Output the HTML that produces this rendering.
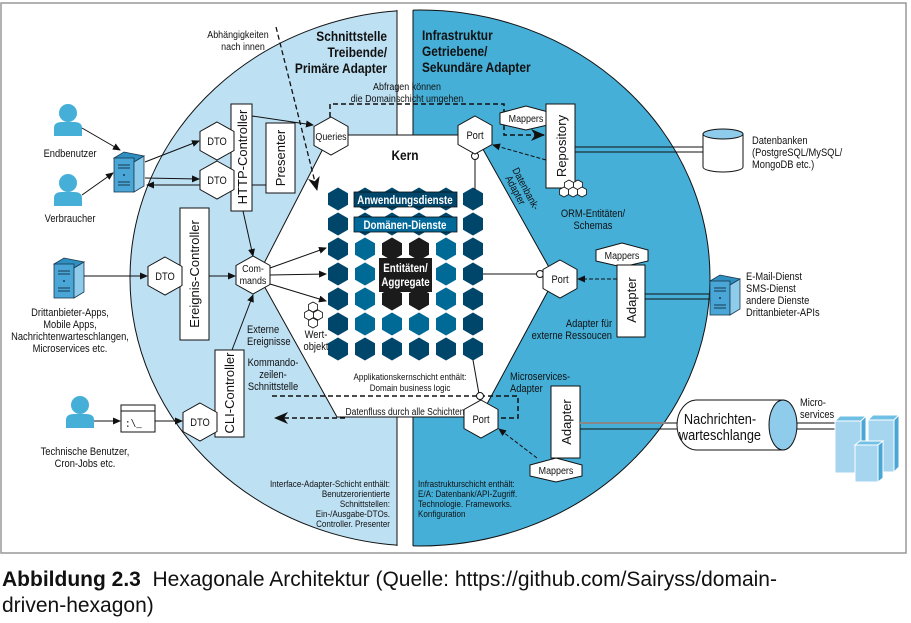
<!DOCTYPE html>
<html><head><meta charset="utf-8"><style>
html,body{margin:0;padding:0;background:#fff;width:911px;height:623px;overflow:hidden}
svg text{font-family:"Liberation Sans Narrow","Liberation Sans",sans-serif;fill:#111}
svg text:not([transform]){transform-box:fill-box;transform-origin:left center;transform:scaleX(.85)}
svg text[text-anchor=middle]:not([transform]){transform-origin:center center}
svg text[text-anchor=end]:not([transform]){transform-origin:right center}
.cap{position:absolute;left:2px;font-family:"Liberation Sans Narrow","Liberation Sans",sans-serif;font-size:21px;color:#111;white-space:nowrap}
</style></head><body>
<svg width="911" height="623" viewBox="0 0 911 623" xmlns="http://www.w3.org/2000/svg" style="position:absolute;left:0;top:0">
<defs>
<polygon id="hx" points="0,-11.5 10,-5.75 10,5.75 0,11.5 -10,5.75 -10,-5.75"/>
<polygon id="nh" points="0,-19 17,-9.5 17,9.5 0,19 -17,9.5 -17,-9.5" fill="#fff" stroke="#111" stroke-width="1"/>
<polygon id="mp" points="-26,-5 0,-12 26,-5 26,6 0,12 -26,6" fill="#fff" stroke="#111" stroke-width="1"/>
<polygon id="sh" points="0,-5 4.5,-2.5 4.5,2.5 0,5 -4.5,2.5 -4.5,-2.5" fill="#fff" stroke="#111" stroke-width="0.8"/>
<marker id="ar" markerWidth="8" markerHeight="8" refX="7" refY="4" orient="auto" markerUnits="userSpaceOnUse"><path d="M0,0.5 L8,4 L0,7.5 Z" fill="#111"/></marker>
<marker id="ab" markerWidth="14" markerHeight="12" refX="13" refY="6" orient="auto" markerUnits="userSpaceOnUse"><path d="M0,0 L14,6 L0,12 L4,6 Z" fill="#111"/></marker>
<clipPath id="cl"><rect x="0" y="0" width="397" height="623"/></clipPath>
<clipPath id="cr"><rect x="413" y="0" width="500" height="623"/></clipPath>
<g id="srv"><polygon points="0,6 10,0 30,4 20,10" fill="#2f8fc0" stroke="#1a3a50" stroke-width="0.8"/><rect x="0" y="6" width="20" height="34" fill="#4aa6d6" stroke="#1a3a50" stroke-width="0.8"/><polygon points="20,10 30,4 30,34 20,40" fill="#8fcbea" stroke="#1a3a50" stroke-width="0.8"/><path d="M4,13h12M4,16h12M4,30h12M4,33h12" stroke="#1a3a50" stroke-width="1"/><circle cx="10" cy="23" r="1" fill="#1a3a50"/></g>
</defs>
<path d="M1,3 H906 V553 H1 Z" fill="none" stroke="#999" stroke-width="1.5"/>
<ellipse cx="420" cy="278" rx="290" ry="268" fill="#bde0f3" stroke="#111" stroke-width="1" clip-path="url(#cl)"/>
<ellipse cx="420" cy="278" rx="290" ry="268" fill="#45afd8" stroke="#111" stroke-width="1" clip-path="url(#cr)"/>
<line x1="397" y1="10" x2="397" y2="546" stroke="#111"/>
<line x1="413" y1="10" x2="413" y2="546" stroke="#111"/>
<polygon points="330,135 475,135 555,278 480,417 337,417 258,275" fill="#fff" stroke="#111" stroke-width="1"/>
<text x="405" y="160" font-size="14" font-weight="bold" text-anchor="middle">Kern</text>
<g>
<use href="#hx" x="338" y="199" fill="#00456a"/><use href="#hx" x="365" y="199" fill="#00456a"/><use href="#hx" x="392" y="199" fill="#00456a"/><use href="#hx" x="419" y="199" fill="#00456a"/><use href="#hx" x="446" y="199" fill="#00456a"/><use href="#hx" x="473" y="199" fill="#00456a"/>
<use href="#hx" x="338" y="224" fill="#00456a"/><use href="#hx" x="365" y="224" fill="#00456a"/><use href="#hx" x="392" y="224" fill="#00456a"/><use href="#hx" x="419" y="224" fill="#00456a"/><use href="#hx" x="446" y="224" fill="#00456a"/><use href="#hx" x="473" y="224" fill="#00456a"/>
<use href="#hx" x="338" y="249" fill="#00456a"/><use href="#hx" x="365" y="249" fill="#006a96"/><use href="#hx" x="392" y="249" fill="#1b1b1b"/><use href="#hx" x="419" y="249" fill="#1b1b1b"/><use href="#hx" x="446" y="249" fill="#006a96"/><use href="#hx" x="473" y="249" fill="#00456a"/>
<use href="#hx" x="338" y="274" fill="#00456a"/><use href="#hx" x="365" y="274" fill="#006a96"/><use href="#hx" x="446" y="274" fill="#006a96"/><use href="#hx" x="473" y="274" fill="#00456a"/>
<use href="#hx" x="338" y="299" fill="#00456a"/><use href="#hx" x="365" y="299" fill="#006a96"/><use href="#hx" x="392" y="299" fill="#1b1b1b"/><use href="#hx" x="419" y="299" fill="#1b1b1b"/><use href="#hx" x="446" y="299" fill="#006a96"/><use href="#hx" x="473" y="299" fill="#00456a"/>
<use href="#hx" x="338" y="324" fill="#00456a"/><use href="#hx" x="365" y="324" fill="#006a96"/><use href="#hx" x="392" y="324" fill="#006a96"/><use href="#hx" x="419" y="324" fill="#006a96"/><use href="#hx" x="446" y="324" fill="#006a96"/><use href="#hx" x="473" y="324" fill="#00456a"/>
<use href="#hx" x="338" y="349" fill="#00456a"/><use href="#hx" x="365" y="349" fill="#00456a"/><use href="#hx" x="392" y="349" fill="#00456a"/><use href="#hx" x="419" y="349" fill="#00456a"/><use href="#hx" x="446" y="349" fill="#00456a"/><use href="#hx" x="473" y="349" fill="#00456a"/>
</g>
<rect x="354" y="192" width="103" height="15" fill="#00456a" stroke="#111" stroke-width="0.8"/>
<text x="405" y="204" font-size="11.5" font-weight="bold" text-anchor="middle" style="fill:#fff">Anwendungsdienste</text>
<rect x="354" y="217" width="103" height="15" fill="#00699a" stroke="#111" stroke-width="0.8"/>
<text x="405" y="229" font-size="11.5" font-weight="bold" text-anchor="middle" style="fill:#fff">Domänen-Dienste</text>
<rect x="379" y="258" width="53" height="34" fill="#1b1b1b"/>
<text x="405.5" y="272" font-size="11.5" font-weight="bold" text-anchor="middle" style="fill:#fff">Entitäten/</text>
<text x="405.5" y="286" font-size="11.5" font-weight="bold" text-anchor="middle" style="fill:#fff">Aggregate</text>
<use href="#sh" x="313" y="307"/><use href="#sh" x="318" y="315"/><use href="#sh" x="313" y="323"/><use href="#sh" x="309" y="315"/>
<text x="316" y="338" font-size="11" text-anchor="middle">Wert-</text>
<text x="316" y="350" font-size="11" text-anchor="middle">objekt</text>
<g fill="#45afd8">
<circle cx="68" cy="113" r="9"/><path d="M54,136 V128 Q54,122 62,122 H74 Q82,122 82,128 V136 Z"/>
<circle cx="68" cy="183" r="9"/><path d="M54,206 V198 Q54,192 62,192 H74 Q82,192 82,198 V206 Z"/>
<circle cx="80" cy="405" r="9"/><path d="M66,428 V420 Q66,414 74,414 H86 Q94,414 94,420 V428 Z"/>
</g>
<text x="70" y="157" font-size="11" text-anchor="middle">Endbenutzer</text>
<text x="70" y="222" font-size="11" text-anchor="middle">Verbraucher</text>
<text x="85" y="455" font-size="11" text-anchor="middle">Technische Benutzer,</text>
<text x="85" y="467" font-size="11" text-anchor="middle">Cron-Jobs etc.</text>
<use href="#srv" x="114" y="152"/>
<use href="#srv" x="54" y="258"/>
<text x="70" y="316" font-size="11" text-anchor="middle">Drittanbieter-Apps,</text>
<text x="70" y="328" font-size="11" text-anchor="middle">Mobile Apps,</text>
<text x="70" y="340" font-size="11" text-anchor="middle">Nachrichtenwarteschlangen,</text>
<text x="70" y="352" font-size="11" text-anchor="middle">Microservices etc.</text>
<rect x="121" y="405" width="34" height="27" fill="#fff" stroke="#111"/><line x1="121" y1="411" x2="155" y2="411" stroke="#111"/>
<text x="125" y="427" font-size="11" style="font-family:'Liberation Mono',monospace">:\_</text>
<g stroke="#111" stroke-width="1" fill="none" marker-end="url(#ar)">
<line x1="82" y1="128" x2="120" y2="150"/>
<line x1="82" y1="195" x2="113" y2="173"/>
<line x1="145" y1="162" x2="199" y2="141"/>
<line x1="145" y1="178" x2="199" y2="179"/>
<line x1="266" y1="185" x2="147" y2="185"/>
<line x1="84" y1="276" x2="147" y2="276"/>
<line x1="209" y1="276" x2="235" y2="276"/>
<line x1="94" y1="421" x2="120" y2="421"/>
<line x1="155" y1="421" x2="182" y2="421"/>
<line x1="252" y1="116" x2="313" y2="125"/>
<line x1="243" y1="211" x2="253" y2="256"/>
<line x1="232" y1="350" x2="253" y2="295"/>
<line x1="270" y1="268" x2="326" y2="248"/>
<line x1="270" y1="275" x2="326" y2="274"/>
<line x1="270" y1="284" x2="326" y2="301"/>
</g>
<rect x="231" y="104" width="21" height="107" fill="#fff" stroke="#111"/>
<text transform="translate(247,157) rotate(-90)" font-size="13" text-anchor="middle">HTTP-Controller</text>
<rect x="266" y="123" width="29" height="70" fill="#fff" stroke="#111"/>
<text transform="translate(285,158) rotate(-90)" font-size="13" text-anchor="middle">Presenter</text>
<rect x="180" y="208" width="29" height="132" fill="#fff" stroke="#111"/>
<text transform="translate(199,274) rotate(-90)" font-size="13" text-anchor="middle">Ereignis-Controller</text>
<rect x="215" y="350" width="29" height="87" fill="#fff" stroke="#111"/>
<text transform="translate(234,393) rotate(-90)" font-size="13" text-anchor="middle">CLI-Controller</text>
<use href="#nh" x="217" y="141"/><text x="217" y="145" font-size="11" text-anchor="middle">DTO</text>
<use href="#nh" x="217" y="180"/><text x="217" y="184" font-size="11" text-anchor="middle">DTO</text>
<use href="#nh" x="165" y="276"/><text x="165" y="280" font-size="11" text-anchor="middle">DTO</text>
<use href="#nh" x="200" y="422"/><text x="200" y="426" font-size="11" text-anchor="middle">DTO</text>
<use href="#nh" x="253" y="275"/><text x="253" y="272" font-size="10.5" text-anchor="middle">Com-</text><text x="253" y="284" font-size="10.5" text-anchor="middle">mands</text>
<use href="#nh" x="331" y="136"/><text x="331" y="140" font-size="10.5" text-anchor="middle">Queries</text>
<text x="247" y="333" font-size="11">Externe</text>
<text x="247" y="345" font-size="11">Ereignisse</text>
<text x="273" y="366" font-size="11" text-anchor="middle">Kommando-</text>
<text x="273" y="378" font-size="11" text-anchor="middle">zeilen-</text>
<text x="273" y="390" font-size="11" text-anchor="middle">Schnittstelle</text>
<text x="238" y="38" font-size="10.5" text-anchor="middle">Abhängigkeiten</text>
<text x="243" y="50" font-size="10.5" text-anchor="middle">nach innen</text>
<line x1="276" y1="27" x2="317" y2="190" stroke="#111" stroke-width="1.3" stroke-dasharray="5,3" marker-end="url(#ab)"/>
<text x="387" y="41" font-size="14" font-weight="bold" text-anchor="end">Schnittstelle</text>
<text x="387" y="57" font-size="14" font-weight="bold" text-anchor="end">Treibende/</text>
<text x="387" y="73" font-size="14" font-weight="bold" text-anchor="end">Primäre Adapter</text>
<text x="422" y="40" font-size="14" font-weight="bold">Infrastruktur</text>
<text x="422" y="56" font-size="14" font-weight="bold">Getriebene/</text>
<text x="422" y="72" font-size="14" font-weight="bold">Sekundäre Adapter</text>
<text x="407" y="90" font-size="10.5" text-anchor="middle">Abfragen können</text>
<text x="407" y="102" font-size="10.5" text-anchor="middle">die Domainschicht umgehen</text>
<path d="M330,117 V104 H504 V135 H544" fill="none" stroke="#111" stroke-width="1.5" stroke-dasharray="5,3" marker-end="url(#ab)"/>
<use href="#mp" x="526" y="118"/><text x="526" y="122" font-size="10.5" text-anchor="middle">Mappers</text>
<rect x="546" y="104" width="29" height="84" fill="#fff" stroke="#111"/>
<text transform="translate(566,146) rotate(-90)" font-size="13" text-anchor="middle">Repository</text>
<use href="#sh" x="569" y="185"/><use href="#sh" x="578" y="185"/><use href="#sh" x="573" y="192"/><use href="#sh" x="564" y="192"/><use href="#sh" x="582" y="192"/>
<text x="593" y="217" font-size="11" text-anchor="middle">ORM-Entitäten/</text>
<text x="593" y="229" font-size="11" text-anchor="middle">Schemas</text>
<text transform="translate(512,170) rotate(62) scale(.85,1)" font-size="10.5">Datenbank-</text>
<text transform="translate(505,178) rotate(62) scale(.85,1)" font-size="10.5">Adapter</text>
<line x1="475" y1="153" x2="475" y2="190" stroke="#111"/>
<circle cx="475" cy="156" r="3.5" fill="#fff" stroke="#111"/>
<use href="#nh" x="475" y="135"/><text x="475" y="139" font-size="11" text-anchor="middle">Port</text>
<line x1="546" y1="160" x2="493" y2="145" stroke="#111" stroke-dasharray="4,2" marker-end="url(#ar)"/>
<line x1="575" y1="147" x2="703" y2="147" stroke="#111"/><line x1="575" y1="152" x2="703" y2="152" stroke="#111"/>
<path d="M703,134 V167 A20,5 0 0 0 743,167 V134" fill="#fff" stroke="#111"/>
<ellipse cx="723" cy="134" rx="20" ry="5" fill="#8fcbea" stroke="#111"/>
<text x="752" y="144" font-size="11">Datenbanken</text>
<text x="752" y="156" font-size="11">(PostgreSQL/MySQL/</text>
<text x="752" y="168" font-size="11">MongoDB etc.)</text>
<line x1="483" y1="274" x2="538" y2="274" stroke="#111"/>
<circle cx="540" cy="274" r="3.5" fill="#fff" stroke="#111"/>
<use href="#nh" x="560" y="279"/><text x="560" y="283" font-size="11" text-anchor="middle">Port</text>
<use href="#mp" x="622" y="255"/><text x="622" y="259" font-size="10.5" text-anchor="middle">Mappers</text>
<rect x="617" y="265" width="28" height="72" fill="#fff" stroke="#111"/>
<text transform="translate(636,300) rotate(-90)" font-size="13" text-anchor="middle">Adapter</text>
<line x1="617" y1="279" x2="578" y2="279" stroke="#111" stroke-dasharray="4,2" marker-end="url(#ar)"/>
<text x="612" y="327" font-size="11" text-anchor="end">Adapter für</text>
<text x="612" y="339" font-size="11" text-anchor="end">externe Ressoucen</text>
<line x1="645" y1="294" x2="710" y2="294" stroke="#111"/><line x1="645" y1="299" x2="710" y2="299" stroke="#111"/>
<use href="#srv" x="710" y="275"/>
<text x="746" y="280" font-size="11">E-Mail-Dienst</text>
<text x="746" y="292" font-size="11">SMS-Dienst</text>
<text x="746" y="304" font-size="11">andere Dienste</text>
<text x="746" y="316" font-size="11">Drittanbieter-APIs</text>
<text x="410" y="380" font-size="9.5" text-anchor="middle">Applikationskernschicht enthält:</text>
<text x="410" y="391" font-size="9.5" text-anchor="middle">Domain business logic</text>
<line x1="473" y1="360" x2="479" y2="394" stroke="#111"/>
<path d="M272,396 H518 V418 H500" fill="none" stroke="#111" stroke-width="1.5" stroke-dasharray="5,3"/>
<line x1="345" y1="418" x2="275" y2="418" stroke="#111" stroke-width="1.5" stroke-dasharray="5,3" marker-end="url(#ab)"/>
<text x="405" y="415" font-size="10" text-anchor="middle">Datenfluss durch alle Schichten</text>
<circle cx="480" cy="396" r="3.5" fill="#fff" stroke="#111"/>
<use href="#nh" x="481" y="419"/><text x="481" y="423" font-size="11" text-anchor="middle">Port</text>
<text x="510" y="380" font-size="11">Microservices-</text>
<text x="510" y="392" font-size="11">Adapter</text>
<rect x="551" y="386" width="29" height="72" fill="#fff" stroke="#111"/>
<text transform="translate(571,422) rotate(-90)" font-size="13" text-anchor="middle">Adapter</text>
<use href="#mp" x="556" y="470"/><text x="556" y="474" font-size="10.5" text-anchor="middle">Mappers</text>
<line x1="537" y1="458" x2="499" y2="429" stroke="#111" stroke-dasharray="4,2" marker-end="url(#ar)"/>
<line x1="580" y1="423" x2="835" y2="423" stroke="#888" stroke-width="2"/>
<line x1="580" y1="429" x2="835" y2="429" stroke="#111"/>
<path d="M697,400 H783 V450 H697 A20,25 0 0 1 697,400 Z" fill="#fff" stroke="#111"/>
<ellipse cx="783" cy="425" rx="14" ry="25" fill="#8fcbea" stroke="#111"/>
<text x="720" y="424" font-size="15" text-anchor="middle">Nachrichten-</text>
<text x="720" y="440" font-size="15" text-anchor="middle">warteschlange</text>
<text x="800" y="406" font-size="11">Micro-</text>
<text x="800" y="418" font-size="11">services</text>
<g stroke="#fff" stroke-width="1">
<polygon points="835,421 840,416 866,416 861,421" fill="#6fc0e4"/><rect x="835" y="421" width="26" height="52" fill="#a6d6ef"/><polygon points="861,421 866,416 866,468 861,473" fill="#4aa6d6"/>
<polygon points="868,420 873,415 899,415 894,420" fill="#6fc0e4"/><rect x="868" y="420" width="26" height="52" fill="#a6d6ef"/><polygon points="894,420 899,415 899,467 894,472" fill="#4aa6d6"/>
<polygon points="855,445 860,441 883,441 878,445" fill="#6fc0e4"/><rect x="855" y="445" width="23" height="37" fill="#a6d6ef"/><polygon points="878,445 883,441 883,478 878,482" fill="#4aa6d6"/>
</g>
<text x="390" y="487" font-size="9.5" text-anchor="end">Interface-Adapter-Schicht enthält:</text>
<text x="390" y="497" font-size="9.5" text-anchor="end">Benutzerorientierte</text>
<text x="390" y="507" font-size="9.5" text-anchor="end">Schnittstellen:</text>
<text x="390" y="517" font-size="9.5" text-anchor="end">Ein-/Ausgabe-DTOs.</text>
<text x="390" y="527" font-size="9.5" text-anchor="end">Controller. Presenter</text>
<text x="418" y="487" font-size="9.5">Infrastrukturschicht enthält:</text>
<text x="418" y="497" font-size="9.5">E/A: Datenbank/API-Zugriff.</text>
<text x="418" y="507" font-size="9.5">Technologie. Frameworks.</text>
<text x="418" y="517" font-size="9.5">Konfiguration</text>
</svg>
<div class="cap" style="top:568px"><b>Abbildung 2.3</b>&nbsp; Hexagonale Architektur (Quelle: https://github.com/Sairyss/domain-</div>
<div class="cap" style="top:594px">driven-hexagon)</div>
</body></html>
